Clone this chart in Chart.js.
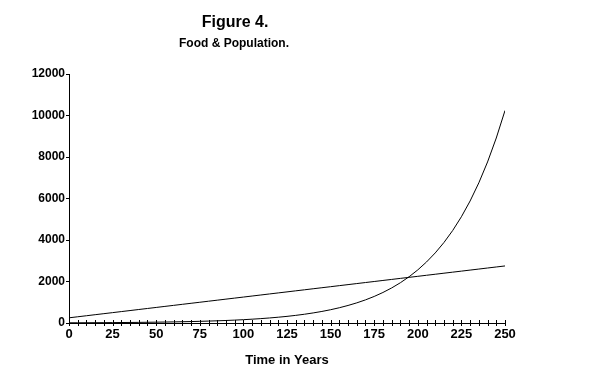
<!DOCTYPE html>
<html>
<head>
<meta charset="utf-8">
<script src="https://cdn.jsdelivr.net/npm/chart.js@4"></script>
<style>
    body { margin: 0; background: #ffffff; }
    canvas { display: block; }
</style>
</head>
<body>
<canvas id="foodPopulationChart" width="591" height="373"></canvas>
<script>
const chartTitle = "Figure 4.";
const chartSubtitle = "Food & Population.";
const xAxisTitle = "Time in Years";

const years = [0, 5, 10, 15, 20, 25, 30, 35, 40, 45, 50, 55, 60, 65, 70, 75, 80, 85, 90, 95, 100,
    105, 110, 115, 120, 125, 130, 135, 140, 145, 150, 155, 160, 165, 170, 175, 180, 185, 190, 195, 200,
    205, 210, 215, 220, 225, 230, 235, 240, 245, 250];
const food = [250, 300, 350, 400, 450, 500, 550, 600, 650, 700, 750, 800, 850, 900, 950, 1000, 1050,
    1100, 1150, 1200, 1250, 1300, 1350, 1400, 1450, 1500, 1550, 1600, 1650, 1700, 1750, 1800, 1850,
    1900, 1950, 2000, 2050, 2100, 2150, 2200, 2250, 2300, 2350, 2400, 2450, 2500, 2550, 2600, 2650,
    2700, 2750];
const population = [10, 11, 13, 15, 17, 20, 23, 26, 30, 35, 40, 46, 53, 61, 70, 80, 92, 106, 121,
    139, 160, 184, 211, 243, 279, 320, 368, 422, 485, 557, 640, 735, 845, 970, 1114, 1280, 1470, 1689,
    1940, 2229, 2560, 2941, 3378, 3880, 4457, 5120, 5881, 6756, 7761, 8915, 10240];
const yTicks = [0, 2000, 4000, 6000, 8000, 10000, 12000];

// titles sit left of the plot centre in the original, so draw them by hand
const titlePlugin = {
    id: 'figureTitle',
    afterDraw(chart) {
        const ctx = chart.ctx;
        ctx.save();
        ctx.fillStyle = '#000000';
        ctx.textAlign = 'center';
        ctx.textBaseline = 'alphabetic';
        ctx.font = 'bold 16px "Liberation Sans", Arial, sans-serif';
        ctx.fillText(chartTitle, 235, 27);
        ctx.font = 'bold 12px "Liberation Sans", Arial, sans-serif';
        ctx.fillText(chartSubtitle, 234, 47);
        ctx.restore();
    }
};

// x ticks cross the axis line
const crossTicks = {
    id: 'crossTicks',
    afterDraw(chart) {
        const xScale = chart.scales.x;
        const ctx = chart.ctx;
        ctx.save();
        ctx.strokeStyle = '#000000';
        ctx.lineWidth = 1;
        ctx.beginPath();
        xScale.ticks.forEach(t => {
            const px = Math.round(xScale.getPixelForValue(t.value)) + 0.5;
            ctx.moveTo(px, xScale.top - 3);
            ctx.lineTo(px, xScale.top + 3);
        });
        ctx.stroke();
        ctx.restore();
    }
};

const foodPopulationChart = document.getElementById("foodPopulationChart");
new Chart(foodPopulationChart, {
    type: 'line',
    data: {
        datasets: [{
            label: 'Food',
            data: years.map((y, i) => ({x: y, y: food[i]})),
            borderColor: '#000000',
            borderWidth: 1,
            pointRadius: 0,
            tension: 0
        }, {
            label: 'Population',
            data: years.map((y, i) => ({x: y, y: population[i]})),
            borderColor: '#000000',
            borderWidth: 1,
            pointRadius: 0,
            tension: 0
        }]
    },
    options: {
        responsive: false,
        animation: false,
        layout: {
            padding: {left: 0, top: 74, right: 86, bottom: 0}
        },
        plugins: {
            legend: false,
            tooltip: {
                enabled: false
            }
        },
        scales: {
            x: {
                type: 'linear',
                min: 0,
                max: 250,
                afterFit: scale => { scale.height = 50; },
                grid: {
                    display: false,
                    drawTicks: false
                },
                border: {
                    color: '#000000',
                    width: 1
                },
                ticks: {
                    stepSize: 5,
                    autoSkip: false,
                    maxRotation: 0,
                    padding: 4,
                    color: '#000000',
                    font: {family: '"Liberation Sans", Arial, sans-serif', size: 13, weight: 'bold'},
                    callback: v => (v % 25 === 0 ? String(v) : '')
                },
                title: {
                    display: true,
                    text: xAxisTitle,
                    color: '#000000',
                    font: {family: '"Liberation Sans", Arial, sans-serif', size: 13, weight: 'bold'},
                    padding: {top: 0, bottom: 5}
                }
            },
            y: {
                min: 0,
                max: 12000,
                afterFit: scale => { scale.width = 69; },
                afterBuildTicks: scale => { scale.ticks = yTicks.map(v => ({value: v})); },
                grid: {
                    drawOnChartArea: false,
                    tickLength: 3,
                    color: '#000000'
                },
                border: {
                    color: '#000000',
                    width: 1
                },
                ticks: {
                    padding: 1,
                    color: '#000000',
                    font: {family: '"Liberation Sans", Arial, sans-serif', size: 12, weight: 'bold'},
                    callback: v => String(v)
                }
            }
        }
    },
    plugins: [titlePlugin, crossTicks]
});
</script>
</body>
</html>
